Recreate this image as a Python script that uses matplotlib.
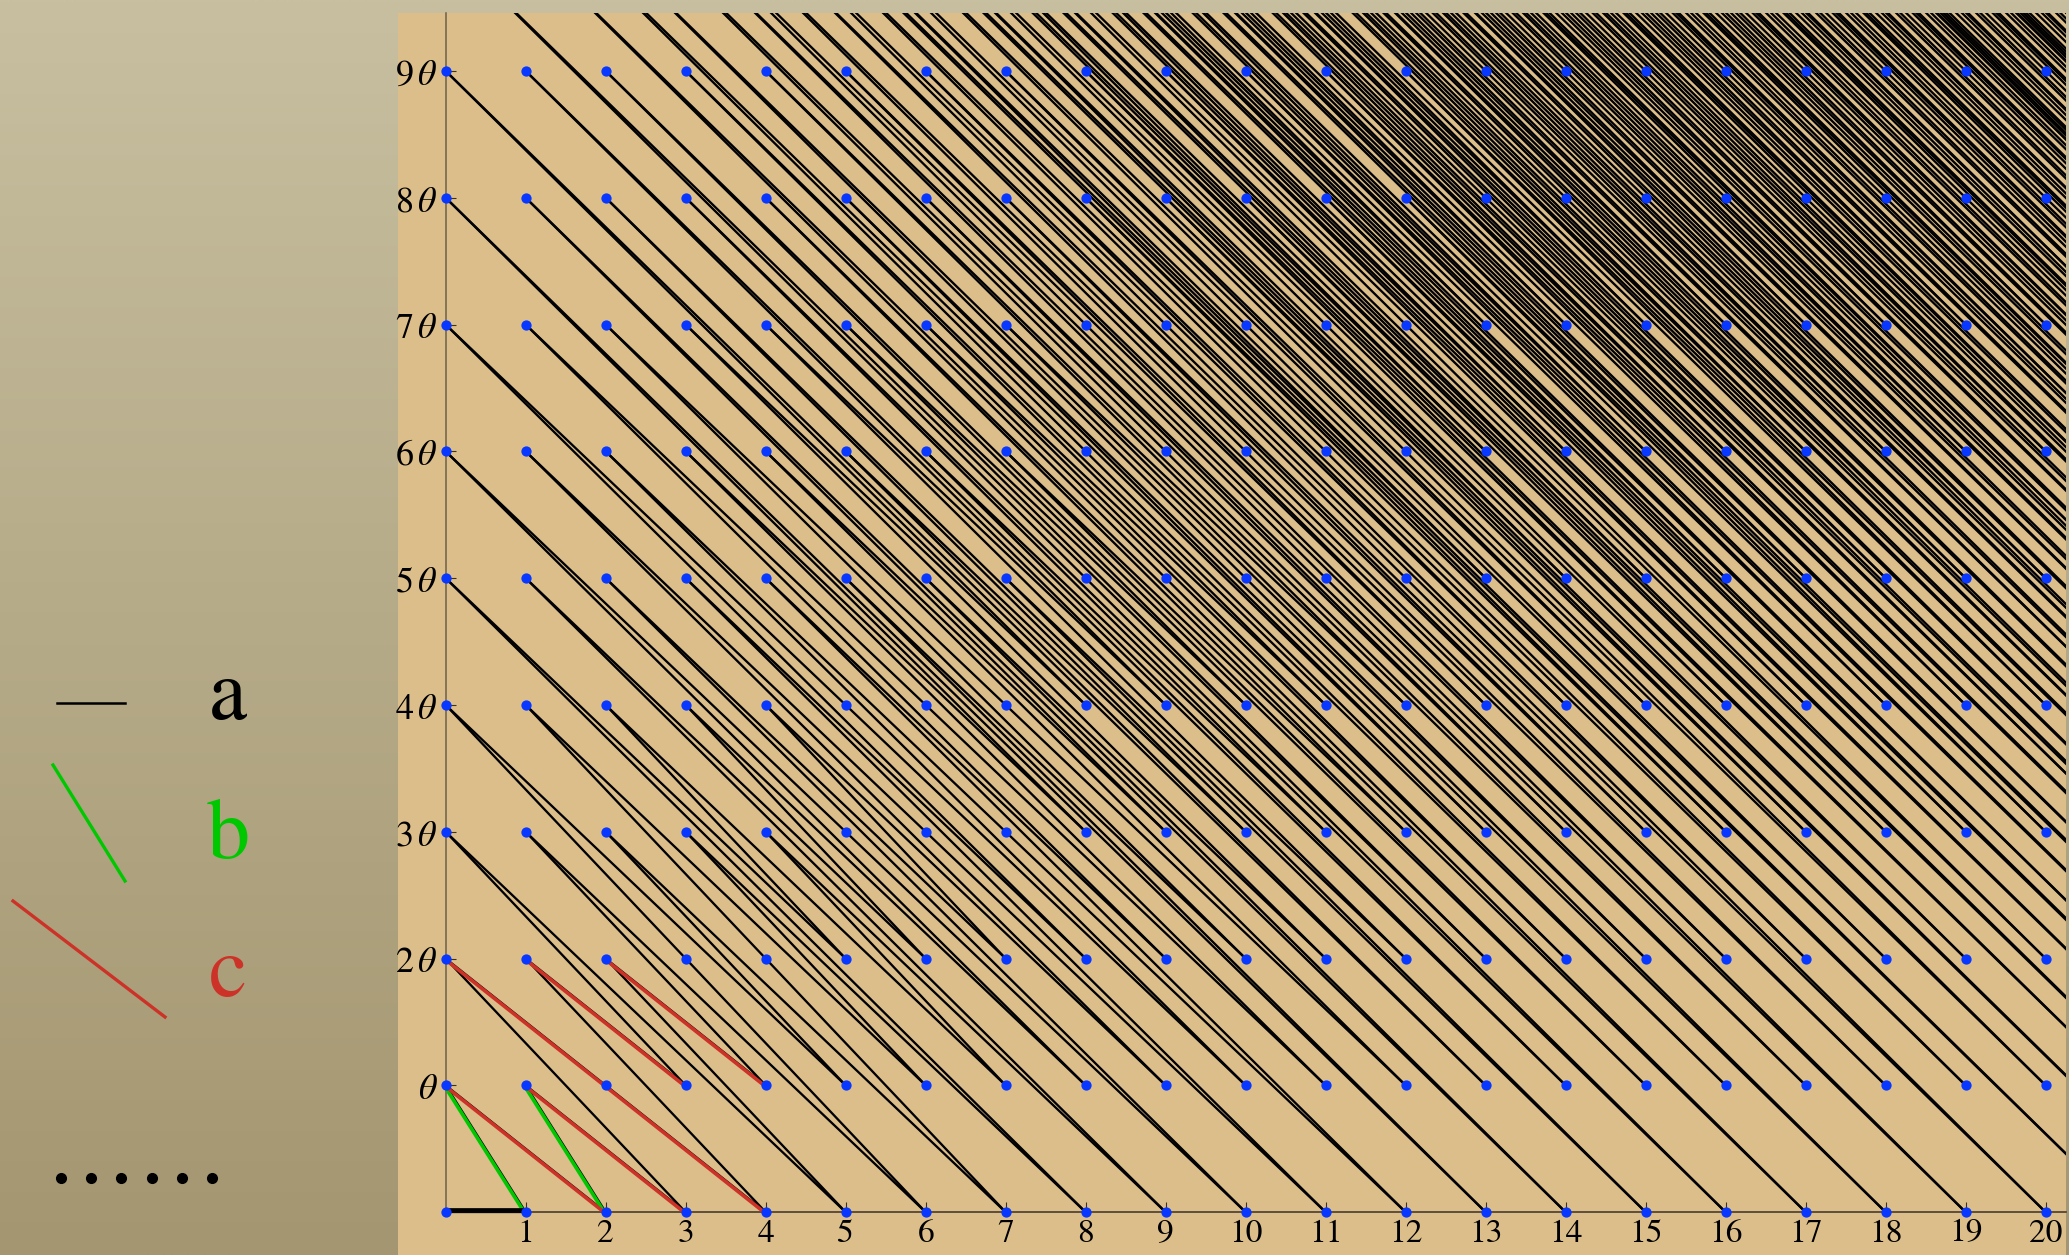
import numpy as np
import matplotlib
matplotlib.use('Agg')
import matplotlib.pyplot as plt
import matplotlib.transforms as mtransforms
from matplotlib.collections import LineCollection

plt.rcParams['mathtext.fontset'] = 'stix'

# lattice n + k*theta, theta = golden ratio
theta = (1 + 5 ** 0.5) / 2
n_max, k_max = 20, 9        # dots drawn for n <= n_max, k <= k_max
value_max = 40              # path runs through every point with n + k*theta <= value_max

x_ticks = list(range(1, 21))
x_labels = [str(i) for i in x_ticks]
y_ticks = list(range(1, 10))
y_labels = [r'$\theta$'] + [r'$%d\,\theta$' % k for k in range(2, 10)]

# first steps of the path, highlighted
seg_a = [(0, 0), (1, 0)]
seg_b = [[(1, 0), (0, 1)], [(2, 0), (1, 1)]]
seg_c = [[(0, 1), (2, 0)], [(1, 1), (3, 0)], [(0, 2), (2, 1)],
         [(2, 1), (4, 0)], [(1, 2), (3, 1)], [(2, 2), (4, 1)]]

panel = '#dcbe8a'
green = '#00c800'
red = '#cc3228'
blue = '#0838ff'

# points sorted by n + k*theta, joined in order
pts = [(n, k) for k in range(int(value_max / theta) + 1)
       for n in range(int(value_max) + 1) if n + k * theta <= value_max]
pts.sort(key=lambda p: p[0] + p[1] * theta)
path = [[pts[i], pts[i + 1]] for i in range(len(pts) - 1)]

W, H = 2069, 1255
fig = plt.figure(figsize=(W / 100, H / 100), dpi=100)

# backdrop
bg = fig.add_axes([0, 0, 1, 1])
top = np.array([199, 191, 160]) / 255
bot = np.array([164, 150, 112]) / 255
t = np.linspace(0, 1, 256)[:, None, None]
grad = top * (1 - t) + bot * t
grad = np.repeat(grad, 4, axis=1)
bg.imshow(grad, extent=(0, W, H, 0), aspect='auto', interpolation='bilinear')
bg.set_xlim(0, W)
bg.set_ylim(H, 0)
bg.axis('off')

# legend on the left
lf = dict(fontsize=62, family='STIXGeneral', ha='center', va='baseline')
bg.plot([57, 125], [703, 703], color='black', lw=1.8)
bg.text(228, 719, 'a', color='black', **lf)
bg.plot([53, 125], [765, 881], color=green, lw=2.4)
bg.text(228, 858, 'b', color=green, **lf)
bg.plot([13, 165], [901, 1017], color=red, lw=2.4)
bg.text(228, 996, 'c', color=red, **lf)
bg.plot([61, 91, 121, 152, 182, 212], [1178] * 6, 'o', color='black', ms=7)

left, right, ptop = 398, 2066, 12.7
ax = fig.add_axes([left / W, 0, (right - left) / W, 1 - ptop / H])
ax.set_facecolor(panel)
ax.set_xlim(-0.597, 20.253)
ax.set_ylim(-0.337, 9.46)

ax.add_collection(LineCollection(path, colors='black', linewidths=1.65, zorder=2))

shift = mtransforms.ScaledTranslation(-1.5 / 100, 0, fig.dpi_scale_trans)
ax.add_collection(LineCollection(seg_b, colors=green, linewidths=2.6, zorder=3,
                                 transform=ax.transData + shift))
ax.add_collection(LineCollection(seg_c, colors=red, linewidths=2.6, zorder=3,
                                 transform=ax.transData + shift))
up = mtransforms.ScaledTranslation(0, 2.5 / 100, fig.dpi_scale_trans)
ax.plot([p[0] for p in seg_a], [p[1] for p in seg_a], color='black', lw=3.4,
        solid_capstyle='butt', zorder=3, transform=ax.transData + up)

gx, gy = np.meshgrid(np.arange(n_max + 1), np.arange(k_max + 1))
ax.plot(gx.ravel(), gy.ravel(), 'o', color=blue, ms=7.4, mec='none', zorder=5)

for s in ['top', 'right']:
    ax.spines[s].set_visible(False)
ax.spines['left'].set_position(('data', 0))
ax.spines['bottom'].set_position(('data', 0))
ax.spines['left'].set_bounds(0, 9.46)
ax.spines['bottom'].set_bounds(0, 20.253)
ax.spines['left'].set_color('#6e5f4a')
ax.spines['bottom'].set_color('#3a3026')
ax.spines['left'].set_linewidth(1.1)
ax.spines['bottom'].set_linewidth(1.1)

ax.set_xticks(x_ticks)
ax.set_xticklabels(x_labels, family='STIXGeneral', fontsize=24)
ax.set_yticks(y_ticks)
ax.set_yticklabels(y_labels, fontsize=26)
ax.tick_params(axis='x', direction='in', length=7, width=0.8, pad=5, colors='#3a3026', labelcolor='black')
ax.tick_params(axis='y', direction='in', length=7, width=0.8, pad=6, colors='#3a3026', labelcolor='black')

fig.savefig('out.png', dpi=100)
